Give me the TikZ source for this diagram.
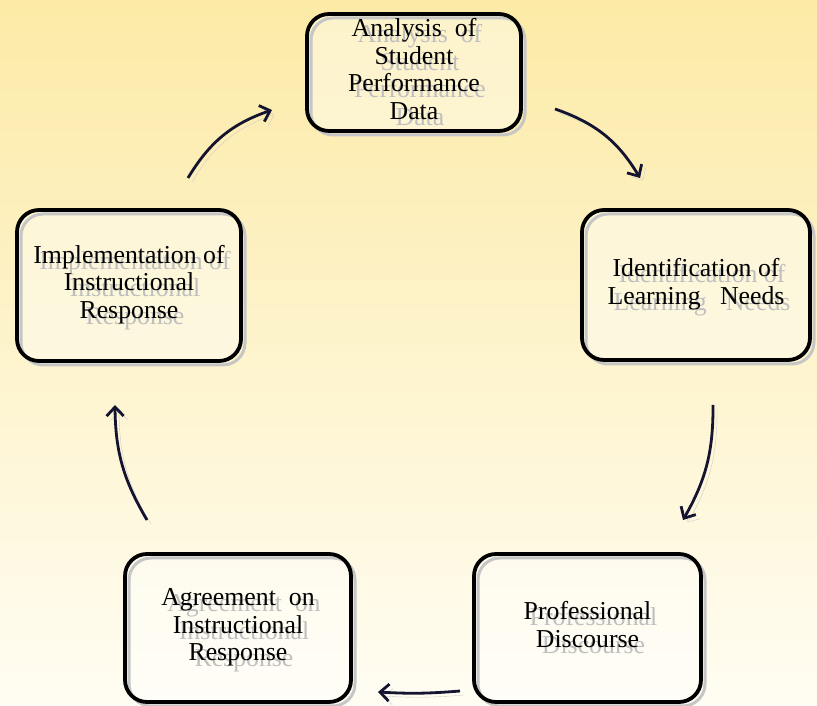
\documentclass[tikz,border=0pt]{standalone}
\usepackage{fontspec}
\setmainfont{Liberation Serif}
\usetikzlibrary{arrows.meta}

\definecolor{bgtop}{RGB}{252,234,166}
\definecolor{bgbottom}{RGB}{255,253,243}
\definecolor{arrowink}{RGB}{20,20,48}

% text with a grey copy behind it
\newcommand{\shadowtext}[1]{%
	\leavevmode\rlap{\hspace{6pt}\raisebox{-6pt}[0pt][0pt]{\textcolor{gray!50}{\begin{tabular}{@{}c@{}}#1\end{tabular}}}}%
	\begin{tabular}{@{}c@{}}#1\end{tabular}}

\tikzset{
	stagebox/.style={rectangle, rounded corners=22pt, draw=black, line width=3.8pt,
		preaction={fill=white, fill opacity=0.4},
		preaction={draw=gray!45, line width=3pt, transform canvas={shift={(4pt,-4pt)}}},
		inner sep=0pt, font=\fontsize{25.8}{27.5}\selectfont},
	cyclearrow/.style={draw=arrowink, line width=2.8pt,
		-{Straight Barb[length=9pt,width=17pt,line width=2.8pt]},
		preaction={draw=gray!40, transform canvas={shift={(4pt,-4pt)}}}}
}

\begin{document}
\begin{tikzpicture}[x=1pt,y=1pt]
	\shade[top color=bgtop, bottom color=bgbottom] (0,0) rectangle (817,706);

	\node[stagebox, minimum width=214pt, minimum height=117pt] (analysis) at (414,633.5)
		{\shadowtext{Analysis\ \ of\\Student\\Performance\\Data}};
	\node[stagebox, minimum width=228pt, minimum height=150pt] (needs) at (696,421)
		{\shadowtext{Identification of\\Learning\ \ \ Needs}};
	\node[stagebox, minimum width=227pt, minimum height=148pt] (discourse) at (587.5,78)
		{\shadowtext{Professional\\Discourse}};
	\node[stagebox, minimum width=226pt, minimum height=148pt] (agreement) at (238,78)
		{\shadowtext{Agreement\ \ on\\Instructional\\Response}};
	\node[stagebox, minimum width=224pt, minimum height=151pt] (implementation) at (129,420.5)
		{\shadowtext{Implementation of\\Instructional\\Response}};

	% free ends of the arrows
	\coordinate (a1) at (555,597);
	\coordinate (a2) at (640,528);
	\coordinate (b1) at (713,301);
	\coordinate (b2) at (683,186);
	\coordinate (c1) at (460,15);
	\coordinate (c2) at (378,14);
	\coordinate (d1) at (147,186);
	\coordinate (d2) at (115,301);
	\coordinate (e1) at (188,528);
	\coordinate (e2) at (272,596);

	\draw[cyclearrow] (a1) to[bend left=20] (a2);
	\draw[cyclearrow] (b1) to[bend left=15] (b2);
	\draw[cyclearrow] (c1) to[bend left=4] (c2);
	\draw[cyclearrow] (d1) to[bend left=15] (d2);
	\draw[cyclearrow] (e1) to[bend left=20] (e2);
\end{tikzpicture}
\end{document}
